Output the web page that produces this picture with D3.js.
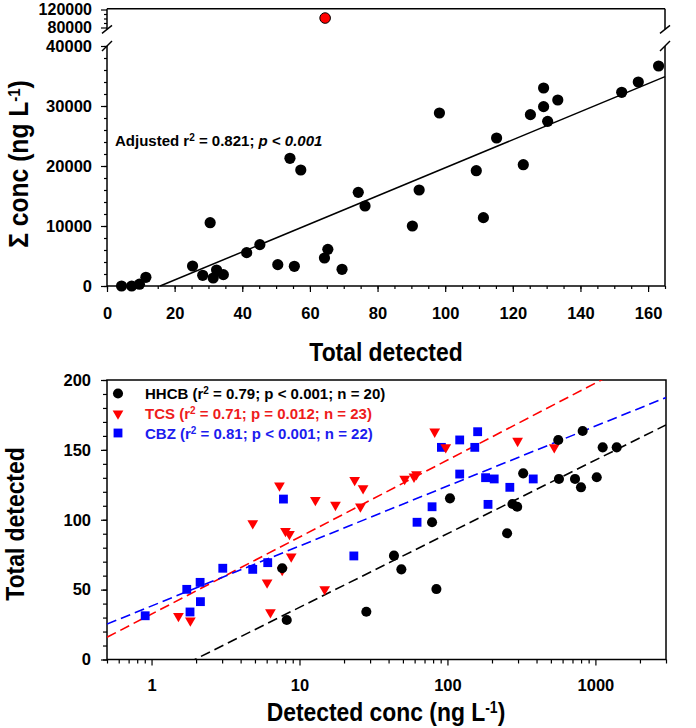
<!DOCTYPE html>
<html><head><meta charset="utf-8">
<script src="https://cdn.jsdelivr.net/npm/d3@7"></script>
<style>
body{margin:0;background:#fff}
svg{display:block}
text{font-family:"Liberation Sans",Arial,Helvetica,sans-serif;font-weight:bold}
</style>
</head><body>
<svg id="chart" width="696" height="728"></svg>
<script>
// ---------- Top panel data ----------
const totalDetected = [4.3,7.3,9.6,11.5,25.3,28.3,30.5,31.4,32.4,34.4,41.3,45.2,50.5,54.1,55.4,57.3,64.3,65.3,69.5,74.3,76.3,90.3,92.3,98.3,109.2,111.3,115.2,123.1,125.2,129.1,129.1,130.3,133.3,152.2,157.1,163.1];
const sumConc = [0,0,300,1450,3330,1780,10550,1330,2670,1890,5560,6890,3560,21280,3280,19330,4670,6110,2780,15610,13330,10000,16000,28830,19220,11390,24670,20220,28560,33000,29890,27440,31000,32280,34000,36670];
const outlierX = [64.5];
const outlierY = [101000];
const topFitSlope = 233.7, topFitIntercept = -3669;
const topXTicks = [0,20,40,60,80,100,120,140,160];
const topYTicksLow = [0,10000,20000,30000,40000];
const topYTicksHigh = [80000,120000];

// ---------- Bottom panel data ----------
const hhcbConc = [7.64,8.2,28.3,820,561,1120,1393,325,567,728,1021,799,104,275,296,78.7,253,43.5,48.8,84.2];
const hhcbTotal = [65.3,28.3,34.2,163.5,157.1,151.8,151.8,133.2,129.2,129.2,130.4,123.2,115.3,111.3,109.3,98.2,90.3,74.3,64.5,50.4];
const tcsConc = [7.32,12.8,17.5,23.6,26.9,25.8,4.83,8.04,8.55,8.79,7.64,6.04,6.36,14.8,1.52,1.83,82.0,97.4,51.4,59.4,61.7,298,527];
const tcsTotal = [124.4,114.1,110.6,128.4,122.5,109.4,97.4,91.9,89.8,73.6,64.0,55.0,33.8,50.2,31.1,27.8,163.0,151.8,129.2,130.8,132.5,156.4,151.8];
const cbzConc = [0.906,1.73,1.82,2.13,2.14,3.03,4.83,6.1,7.79,23.3,91.0,121,160,153,121,181,207,380,264,188,78.7,62.3];
const cbzTotal = [31.3,50.2,34.0,55.2,41.4,65.3,64.5,69.3,114.8,74.1,151.8,157.1,163.0,151.8,132.7,130.1,129.2,129.2,123.2,111.0,109.3,98.2];
const fitSlopes = [52.7, 55.1, 42.9];      // HHCB, TCS, CBZ (per decade)
const fitIntercepts = [-15.4, 32.5, 38.3];
const seriesNames = ["HHCB","TCS","CBZ"];
const seriesStats = ["0.79; p < 0.001; n = 20","0.71; p = 0.012; n = 23","0.81; p < 0.001; n = 22"];
const seriesColors = ["#000000","#ff0000","#0000ff"];
const legendColors = ["#000000","#ee1c1c","#1c1cee"];
const bottomXTicks = [1,10,100,1000];
const bottomYTicks = [0,50,100,150,200];

const svg = d3.select("#chart");
const AX = 1.5;
const tickFont = sel => sel.attr("font-size",16.5).attr("fill","#000")
  .style("font-family","'Liberation Sans',Arial,sans-serif").style("font-weight","bold");

// ================= TOP PANEL =================
const xT = d3.scaleLinear().domain([0,165]).range([107,665]);
const yL = d3.scaleLinear().domain([0,40000]).range([286,46]);
const yU = d3.scaleLinear().domain([80000,120000]).range([27.5,9.5]);
const topG = svg.append("g");

topG.append("g").attr("transform","translate(0,286)")
  .call(d3.axisBottom(xT).tickValues(d3.range(0,166,5)).tickSize(3).tickFormat(""))
  .call(g=>g.select(".domain").remove());
topG.append("g").attr("transform","translate(0,286)")
  .call(d3.axisBottom(xT).tickValues(topXTicks).tickSize(6).tickPadding(15).tickFormat(d3.format("d")))
  .call(g=>g.select(".domain").remove());

topG.append("g").attr("transform","translate(107,0)")
  .call(d3.axisLeft(yL).tickValues(d3.range(0,40001,2000)).tickSize(3).tickFormat(""))
  .call(g=>g.select(".domain").remove());
topG.append("g").attr("transform","translate(107,0)")
  .call(d3.axisLeft(yL).tickValues(topYTicksLow).tickSize(6).tickPadding(9).tickFormat(d3.format("d")))
  .call(g=>g.select(".domain").remove());
topG.append("g").attr("transform","translate(107,0)")
  .call(d3.axisLeft(yU).tickValues([90000,100000,110000]).tickSize(3).tickFormat(""))
  .call(g=>g.select(".domain").remove());
const upAx = topG.append("g").attr("transform","translate(107,0)")
  .call(d3.axisLeft(yU).tickValues(topYTicksHigh).tickSize(6).tickPadding(9).tickFormat(d3.format("d")))
  .call(g=>g.select(".domain").remove());

topG.selectAll(".tick text").call(tickFont);
upAx.selectAll(".tick text").attr("font-size",16);
topG.selectAll(".tick line").attr("stroke","#000").attr("stroke-width",1.2);

const upTop = yU(121500), upBot = yU(76000);
const lowTop = yL(40000), lowBot = yL(0);
const frame = topG.append("g").attr("stroke","#000").attr("stroke-width",AX).attr("fill","none");
frame.append("line").attr("x1",xT(0)).attr("x2",xT(165)).attr("y1",upTop).attr("y2",upTop);
[xT(0), xT(165)].forEach(x=>{
  frame.append("line").attr("x1",x).attr("x2",x).attr("y1",upTop).attr("y2",upBot);
  frame.append("line").attr("x1",x).attr("x2",x).attr("y1",lowTop).attr("y2",lowBot);
  frame.append("line").attr("x1",x-5).attr("x2",x+5).attr("y1",upBot+4).attr("y2",upBot-4);
  frame.append("line").attr("x1",x-5).attr("x2",x+5).attr("y1",lowTop+5).attr("y2",lowTop-5);
});
frame.append("line").attr("x1",xT(0)).attr("x2",xT(165)).attr("y1",lowBot).attr("y2",lowBot);

const x0fit = -topFitIntercept/topFitSlope;
topG.append("line")
  .attr("x1",xT(x0fit)).attr("y1",yL(0))
  .attr("x2",xT(165)).attr("y2",yL(topFitSlope*165+topFitIntercept))
  .attr("stroke","#000").attr("stroke-width",1.5);

topG.append("g").selectAll("circle").data(totalDetected).join("circle")
  .attr("cx",(d)=>xT(d)).attr("cy",(d,i)=>yL(sumConc[i])).attr("r",5.6).attr("fill","#000");
topG.append("g").selectAll("circle").data(outlierX).join("circle")
  .attr("cx",d=>xT(d)).attr("cy",(d,i)=>yU(outlierY[i])).attr("r",5.3)
  .attr("fill","#ff0000").attr("stroke","#000").attr("stroke-width",1);

const ann = topG.append("text").attr("x",115).attr("y",146).attr("font-size",15).attr("fill","#000");
ann.append("tspan").text("Adjusted r");
ann.append("tspan").attr("baseline-shift","super").attr("font-size",10).text("2");
ann.append("tspan").text(" = 0.821; ");
ann.append("tspan").attr("font-style","italic").text("p");
ann.append("tspan").text(" < ");
ann.append("tspan").attr("font-style","italic").text("0.001");

topG.append("text").attr("transform","translate(386,361) scale(0.88,1)")
  .attr("text-anchor","middle").attr("font-size",26).text("Total detected");
const yt = topG.append("text").attr("transform","translate(28,164) rotate(-90) scale(0.88,1)")
  .attr("text-anchor","middle").attr("font-size",28);
yt.append("tspan").text("\u03A3 conc (ng L");
yt.append("tspan").attr("baseline-shift","super").attr("font-size",17).text("-1");
yt.append("tspan").text(")");

// ================= BOTTOM PANEL =================
const xB = d3.scaleLog().domain([0.5,3000]).range([107,666]);
const yB = d3.scaleLinear().domain([0,200]).range([659.5,380]);
const bot = svg.append("g");

const minorLog = [];
[0.1,1,10,100,1000].forEach(dec=>{ for(let k=2;k<=9;k++){ const v=dec*k; if(v>=0.5 && v<=3000 && !bottomXTicks.includes(v)) minorLog.push(v);} });
bot.append("g").attr("transform","translate(0,659.5)")
  .call(d3.axisBottom(xB).tickValues(minorLog).tickSize(4).tickFormat(""))
  .call(g=>g.select(".domain").remove());
bot.append("g").attr("transform","translate(0,659.5)")
  .call(d3.axisBottom(xB).tickValues(bottomXTicks).tickSize(6).tickPadding(14).tickFormat(d3.format("d")))
  .call(g=>g.select(".domain").remove());
bot.append("g").attr("transform","translate(107,0)")
  .call(d3.axisLeft(yB).tickValues(d3.range(0,201,10)).tickSize(4).tickFormat(""))
  .call(g=>g.select(".domain").remove());
bot.append("g").attr("transform","translate(107,0)")
  .call(d3.axisLeft(yB).tickValues(bottomYTicks).tickSize(6).tickPadding(10).tickFormat(d3.format("d")))
  .call(g=>g.select(".domain").remove());
bot.selectAll(".tick text").call(tickFont);
bot.selectAll(".tick line").attr("stroke","#000").attr("stroke-width",1.2);

bot.append("rect").attr("x",107).attr("y",380).attr("width",666-107).attr("height",659.5-380)
  .attr("fill","none").attr("stroke","#000").attr("stroke-width",AX);

svg.append("defs").append("clipPath").attr("id","clipB")
  .append("rect").attr("x",107).attr("y",380).attr("width",559).attr("height",279.5);

const fitG = bot.append("g").attr("clip-path","url(#clipB)");
seriesNames.forEach((n,i)=>{
  const xs = xB.domain();
  fitG.append("line")
    .attr("x1",xB(xs[0])).attr("y1",yB(fitSlopes[i]*Math.log10(xs[0])+fitIntercepts[i]))
    .attr("x2",xB(xs[1])).attr("y2",yB(fitSlopes[i]*Math.log10(xs[1])+fitIntercepts[i]))
    .attr("stroke",seriesColors[i]).attr("stroke-width",1.6).attr("stroke-dasharray","10,5");
});

const sym = [d3.symbolCircle, d3.symbolTriangle, d3.symbolSquare];
const symSize = [80, 50, 78];
const symRot = [0, 180, 0];
const seriesConc = [hhcbConc, tcsConc, cbzConc];
const seriesTotal = [hhcbTotal, tcsTotal, cbzTotal];
[2,1,0].forEach(i=>{
  bot.append("g").selectAll("path").data(seriesConc[i]).join("path")
    .attr("d", d3.symbol().type(sym[i]).size(symSize[i]))
    .attr("transform",(d,j)=>`translate(${xB(d)},${yB(seriesTotal[i][j])}) rotate(${symRot[i]})`)
    .attr("fill",seriesColors[i]);
});

const legRows = [393.5, 413.5, 433];
seriesNames.forEach((n,i)=>{
  bot.append("path").attr("d", d3.symbol().type(sym[i]).size(symSize[i]))
    .attr("transform",`translate(118,${legRows[i]}) rotate(${symRot[i]})`).attr("fill",seriesColors[i]);
  const t = bot.append("text").attr("x",145).attr("y",legRows[i]+5.5).attr("font-size",15).attr("fill",legendColors[i]);
  t.append("tspan").text(n + " (r");
  t.append("tspan").attr("baseline-shift","super").attr("font-size",10).text("2");
  t.append("tspan").text(" = " + seriesStats[i] + ")");
});

const bx = bot.append("text").attr("transform","translate(386,721) scale(0.88,1)")
  .attr("text-anchor","middle").attr("font-size",26);
bx.append("tspan").text("Detected conc (ng L");
bx.append("tspan").attr("baseline-shift","super").attr("font-size",16).text("-1");
bx.append("tspan").text(")");
bot.append("text").attr("transform","translate(24,524) rotate(-90) scale(0.88,1)")
  .attr("text-anchor","middle").attr("font-size",26).text("Total detected");
</script>
</body></html>
